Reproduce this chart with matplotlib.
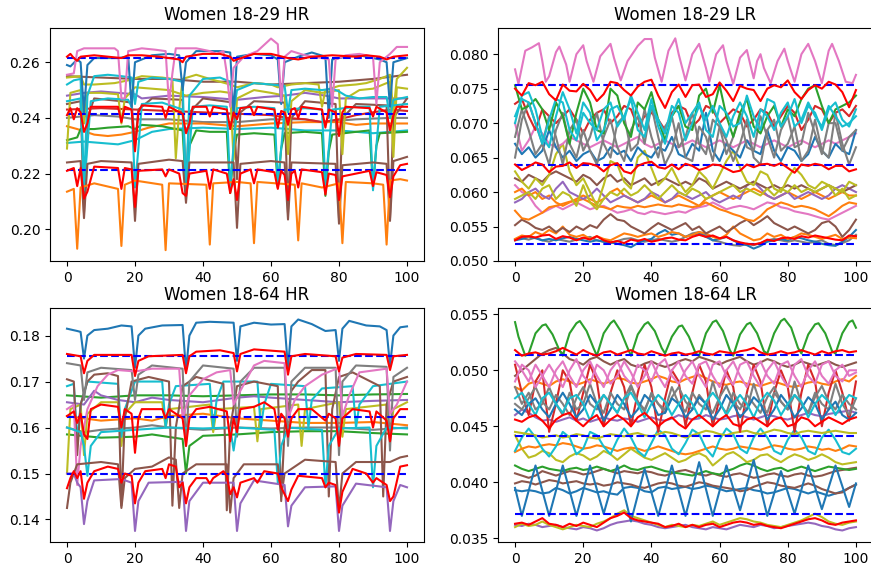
import numpy as np
import matplotlib
matplotlib.use("Agg")
import matplotlib.pyplot as plt

# ---------------- Women 18-29 HR (values x1e-4, vertex pairs (x, y)) ----------------
hr29_orange = [(0,2135),(2,2145),(3,1930),(4,2150),(8,2165),(15,2145),(16,1940),(17,2160),(20,2175),(28,2160),(29,1925),(30,2165),(41,2160),(42,1945),(43,2165),(50,2170),(54,2165),(55,1950),(56,2170),(67,2160),(68,1960),(69,2165),(75,2150),(80,2165),(81,1950),(82,2170),(90,2165),(93,2160),(94,1945),(95,2175),(98,2180),(100,2175)]
hr29_brown_low = [(0,2240),(4,2245),(5,2040),(6,2235),(10,2245),(19,2240),(20,2030),(21,2235),(30,2250),(34,2245),(35,2095),(36,2240),(49,2240),(50,2005),(51,2235),(60,2245),(64,2240),(65,2035),(66,2240),(79,2235),(80,2020),(81,2230),(90,2240),(94,2235),(95,2030),(96,2245),(100,2260)]
hr29_pink = [(0,2555),(2,2560),(3,2640),(5,2650),(10,2650),(14,2650),(15,2640),(16,2470),(17,2470),(18,2640),(22,2650),(26,2645),(29,2640),(30,2450),(31,2560),(32,2650),(38,2650),(42,2640),(44,2630),(46,2640),(47,2560),(48,2440),(49,2580),(52,2620),(56,2640),(60,2685),(62,2665),(63,2460),(64,2620),(66,2640),(70,2625),(75,2615),(77,2610),(78,2440),(79,2610),(82,2625),(86,2630),(90,2620),(91,2450),(92,2600),(95,2630),(97,2655),(100,2655)]
hr29_blue = [(0,2590),(1,2585),(3,2610),(4,2600),(5,2420),(6,2590),(8,2615),(15,2615),(18,2620),(19,2440),(20,2600),(25,2625),(30,2630),(33,2625),(34,2500),(35,2600),(38,2640),(45,2640),(48,2635),(49,2410),(50,2620),(55,2630),(60,2625),(62,2610),(63,2450),(64,2600),(68,2620),(72,2635),(76,2620),(77,2400),(78,2610),(82,2620),(86,2625),(92,2610),(94,2600),(95,2440),(96,2600),(100,2615)]
hr29_olive_a = [(0,2545),(4,2550),(5,2520),(8,2520),(14,2525),(18,2535),(22,2550),(28,2545),(31,2540),(32,2255),(33,2430),(34,2540),(38,2555),(42,2540),(45,2530),(48,2520),(50,2510),(55,2525),(60,2520),(62,2510),(66,2520),(70,2525),(74,2520),(75,2440),(76,2500),(80,2515),(85,2520),(88,2525),(92,2540),(95,2555),(96,2420),(97,2540),(100,2580)]
hr29_olive_b = [(0,2290),(1,2490),(4,2500),(5,2380),(6,2490),(10,2490),(15,2485),(16,2380),(17,2470),(20,2510),(25,2505),(30,2500),(35,2480),(40,2490),(45,2495),(48,2490),(49,2250),(50,2470),(55,2500),(60,2490),(64,2480),(65,2270),(66,2460),(70,2500),(75,2490),(80,2500),(81,2270),(82,2470),(86,2500),(90,2505),(95,2530),(96,2260),(97,2510),(100,2505)]
hr29_cyan_a = [(0,2520),(2,2535),(4,2540),(5,2150),(6,2480),(8,2550),(12,2555),(16,2550),(19,2545),(20,2450),(21,2530),(25,2545),(30,2540),(34,2530),(35,2120),(36,2480),(40,2540),(45,2545),(48,2530),(49,2420),(50,2500),(55,2525),(60,2520),(64,2515),(65,2420),(66,2500),(70,2505),(75,2500),(78,2505),(80,2495),(82,2480),(86,2470),(90,2475),(94,2475),(95,2400),(96,2465),(100,2475)]
hr29_cyan_b = [(0,2460),(4,2470),(5,2140),(6,2300),(7,2460),(12,2470),(18,2465),(19,2440),(20,2150),(21,2290),(22,2450),(28,2455),(34,2430),(35,2130),(36,2280),(37,2440),(42,2445),(47,2440),(48,2150),(49,2300),(50,2435),(55,2440),(61,2435),(62,2160),(63,2290),(64,2430),(70,2435),(75,2430),(76,2160),(77,2290),(78,2430),(85,2440),(89,2440),(90,2140),(91,2300),(92,2440),(100,2450)]
hr29_cyan_c = [(0,2310),(5,2315),(10,2310),(15,2305),(20,2320),(25,2350),(30,2360),(40,2365),(50,2360),(60,2365),(70,2355),(80,2355),(90,2345),(100,2355)]
hr29_green = [(0,2320),(3,2330),(4,2360),(8,2360),(12,2365),(18,2370),(20,2360),(22,2375),(28,2370),(34,2355),(35,2140),(36,2300),(38,2355),(42,2350),(47,2350),(48,2130),(49,2280),(50,2340),(55,2345),(61,2340),(62,2150),(63,2290),(64,2345),(70,2350),(75,2345),(76,2120),(77,2280),(78,2340),(85,2350),(89,2355),(90,2150),(91,2300),(92,2345),(100,2350)]
hr29_brown_up = [(0,2450),(4,2460),(5,2060),(6,2400),(8,2470),(16,2460),(19,2455),(20,2300),(21,2430),(25,2470),(34,2465),(35,2150),(36,2420),(40,2470),(49,2455),(50,2180),(51,2420),(55,2460),(64,2455),(65,2060),(66,2400),(70,2460),(79,2450),(80,2040),(81,2400),(85,2450),(94,2445),(95,2040),(96,2400),(100,2470)]
hr29_brown_top = [(0,2550),(10,2545),(20,2540),(30,2540),(40,2530),(50,2530),(60,2520),(70,2525),(80,2530),(90,2540),(100,2555)]
hr29_purple = [(0,2480),(5,2490),(10,2495),(15,2490),(20,2485),(22,2470),(30,2480),(40,2475),(50,2465),(58,2475),(64,2480),(70,2490),(76,2480),(80,2470),(90,2470),(100,2470)]
hr29_gray = [(0,2400),(8,2410),(15,2405),(20,2395),(30,2395),(40,2385),(50,2385),(60,2395),(70,2395),(75,2385),(85,2395),(95,2400),(100,2400)]
hr29_orange_mid = [(0,2370),(3,2360),(8,2340),(12,2335),(16,2340),(20,2350),(24,2365),(30,2380),(40,2380),(50,2370),(60,2380),(70,2385),(80,2385),(85,2375),(90,2380),(100,2380)]
hr29_darkred = [(0,2430),(10,2435),(20,2430),(30,2425),(40,2420),(50,2415),(60,2410),(65,2400),(70,2395),(75,2385),(80,2395),(85,2410),(90,2420),(95,2430),(100,2425)]
hr29_red_top = [(0,2620),(1,2630),(2,2615),(3,2605),(4,2620),(8,2625),(12,2620),(16,2615),(18,2625),(22,2625),(27,2620),(30,2615),(33,2610),(34,2600),(35,2620),(40,2630),(45,2630),(48,2620),(49,2605),(50,2610),(55,2630),(60,2630),(65,2615),(68,2610),(72,2620),(78,2625),(85,2620),(88,2625),(92,2620),(94,2610),(96,2620),(100,2625)]
hr29_red_mid = [(0,2410),(1,2435),(2,2395),(3,2435),(4,2420),(5,2350),(6,2380),(7,2440),(15,2440),(16,2385),(17,2440),(19,2430),(20,2280),(21,2420),(22,2445),(28,2440),(29,2400),(30,2440),(34,2415),(35,2345),(36,2380),(37,2440),(41,2440),(42,2405),(43,2440),(47,2430),(48,2360),(49,2420),(50,2395),(51,2435),(54,2440),(55,2410),(56,2440),(61,2430),(62,2365),(63,2425),(64,2420),(65,2375),(66,2430),(67,2435),(68,2400),(69,2440),(75,2430),(76,2365),(77,2430),(79,2420),(80,2335),(81,2420),(82,2440),(89,2435),(90,2405),(91,2440),(94,2420),(95,2355),(96,2410),(97,2440),(100,2440)]
hr29_red_low = [(0,2210),(2,2220),(3,2155),(4,2220),(5,2110),(6,2135),(8,2225),(15,2220),(16,2145),(17,2220),(19,2215),(20,2080),(21,2210),(28,2215),(29,2190),(30,2215),(33,2200),(34,2130),(35,2120),(36,2200),(41,2210),(42,2145),(43,2215),(47,2200),(48,2130),(49,2180),(50,2105),(51,2200),(54,2215),(55,2165),(56,2215),(61,2205),(62,2145),(63,2210),(64,2195),(65,2105),(66,2200),(67,2210),(68,2150),(69,2215),(75,2205),(76,2125),(77,2200),(79,2195),(80,2105),(81,2190),(89,2210),(90,2155),(91,2205),(94,2195),(95,2115),(96,2190),(98,2230),(100,2235)]
hr29_bounds = [0.2617, 0.2413, 0.2212]

# ---------------- Women 18-64 HR (values x1e-4, vertex pairs) ----------------
hr64_blue = [(0,1815),(3,1810),(4,1808),(5,1750),(6,1800),(8,1812),(12,1815),(16,1822),(19,1820),(20,1730),(21,1800),(23,1815),(28,1822),(34,1823),(35,1725),(36,1800),(38,1828),(42,1830),(49,1828),(50,1745),(51,1820),(55,1828),(60,1824),(64,1825),(65,1730),(66,1820),(68,1835),(72,1825),(76,1810),(79,1812),(80,1745),(81,1815),(83,1832),(88,1822),(92,1820),(94,1812),(95,1735),(96,1800),(98,1818),(100,1820)]
hr64_gray = [(0,1740),(4,1735),(5,1660),(6,1720),(10,1730),(19,1725),(20,1660),(21,1715),(25,1735),(34,1728),(35,1560),(36,1700),(40,1735),(49,1728),(50,1580),(51,1700),(55,1730),(64,1730),(65,1560),(66,1700),(70,1730),(79,1730),(80,1540),(81,1700),(85,1735),(94,1732),(95,1550),(96,1710),(100,1730)]
hr64_brown_up = [(0,1705),(2,1700),(3,1540),(4,1650),(6,1700),(8,1715),(12,1718),(15,1712),(16,1430),(17,1620),(19,1700),(24,1710),(30,1700),(31,1430),(32,1600),(34,1690),(38,1710),(46,1695),(47,1420),(48,1600),(50,1690),(55,1700),(62,1690),(63,1440),(64,1600),(66,1680),(68,1700),(72,1725),(76,1725),(77,1450),(78,1640),(80,1710),(84,1720),(92,1690),(93,1450),(94,1650),(96,1700),(100,1710)]
hr64_pink = [(0,1640),(2,1650),(3,1475),(4,1560),(6,1640),(9,1690),(12,1715),(15,1725),(20,1722),(25,1728),(33,1728),(34,1620),(36,1670),(40,1705),(44,1720),(48,1725),(49,1650),(51,1680),(55,1735),(58,1745),(64,1740),(65,1620),(67,1660),(70,1690),(75,1715),(80,1730),(81,1625),(83,1670),(86,1720),(94,1728),(95,1630),(97,1650),(100,1700)]
hr64_cyan_a = [(0,1690),(2,1695),(3,1570),(4,1650),(6,1700),(15,1695),(16,1580),(17,1640),(20,1700),(28,1700),(29,1600),(30,1650),(32,1690),(42,1695),(43,1600),(44,1660),(46,1700),(56,1700),(57,1600),(58,1650),(60,1695),(70,1690),(71,1600),(72,1660),(75,1685),(84,1690),(85,1600),(86,1650),(90,1690),(100,1700)]
hr64_green_a = [(0,1670),(10,1665),(20,1670),(30,1670),(40,1668),(50,1670),(60,1672),(70,1672),(80,1670),(90,1672),(100,1673)]
hr64_purple_up = [(0,1655),(5,1650),(8,1680),(10,1670),(15,1660),(20,1655),(25,1665),(30,1660),(40,1655),(50,1665),(55,1668),(60,1665),(70,1660),(80,1655),(90,1658),(100,1660)]
hr64_olive = [(0,1500),(1,1640),(4,1650),(5,1540),(6,1630),(10,1655),(15,1655),(16,1560),(17,1630),(20,1655),(28,1655),(29,1600),(30,1640),(42,1650),(43,1590),(44,1640),(55,1645),(56,1570),(57,1640),(68,1650),(69,1560),(70,1640),(80,1655),(81,1580),(82,1640),(94,1650),(95,1570),(96,1640),(100,1655)]
hr64_orange = [(0,1625),(10,1615),(20,1620),(25,1615),(30,1625),(40,1630),(50,1620),(60,1615),(70,1610),(80,1610),(90,1612),(100,1605)]
hr64_gray_low = [(0,1600),(5,1590),(10,1595),(20,1600),(25,1605),(30,1600),(40,1595),(50,1600),(60,1598),(70,1600),(80,1600),(90,1595),(100,1600)]
hr64_cyan_b = [(0,1600),(4,1590),(5,1560),(6,1495),(7,1560),(10,1590),(20,1595),(30,1600),(40,1598),(48,1600),(49,1550),(50,1600),(61,1595),(62,1480),(63,1560),(65,1600),(75,1595),(76,1470),(77,1560),(80,1598),(89,1600),(90,1470),(91,1560),(94,1600),(100,1598)]
hr64_green_b = [(0,1585),(10,1578),(20,1580),(25,1585),(34,1575),(35,1500),(36,1560),(40,1582),(50,1585),(60,1590),(70,1592),(80,1592),(90,1588),(100,1585)]
hr64_brown_low = [(0,1425),(1,1480),(3,1520),(10,1525),(15,1520),(16,1425),(17,1490),(20,1510),(25,1515),(30,1535),(32,1530),(33,1425),(34,1500),(38,1520),(47,1520),(48,1415),(49,1490),(52,1520),(62,1520),(63,1450),(64,1500),(70,1530),(79,1525),(80,1420),(81,1500),(85,1525),(95,1525),(98,1535),(100,1538)]
hr64_purple_low = [(0,1500),(2,1500),(3,1480),(4,1470),(5,1390),(6,1440),(8,1485),(16,1488),(19,1480),(20,1375),(21,1440),(24,1480),(34,1482),(35,1375),(36,1440),(40,1480),(49,1480),(50,1375),(51,1435),(55,1485),(64,1475),(65,1385),(66,1430),(70,1470),(79,1472),(80,1375),(81,1430),(85,1478),(94,1470),(95,1375),(96,1440),(98,1475),(100,1470)]
hr64_red_top = [(0,1760),(4,1755),(5,1718),(6,1745),(8,1758),(19,1758),(20,1712),(21,1745),(24,1755),(34,1758),(35,1718),(36,1755),(38,1765),(45,1768),(49,1762),(50,1722),(51,1760),(55,1770),(64,1765),(65,1715),(66,1755),(70,1760),(79,1755),(80,1722),(81,1752),(85,1760),(94,1758),(95,1725),(96,1755),(100,1758)]
hr64_red_mid = [(0,1625),(2,1635),(3,1610),(4,1630),(5,1585),(6,1575),(7,1640),(10,1650),(15,1645),(16,1600),(17,1640),(19,1630),(20,1545),(21,1620),(22,1640),(28,1640),(29,1620),(30,1640),(34,1620),(35,1560),(36,1620),(38,1640),(42,1645),(47,1635),(48,1570),(49,1620),(50,1590),(51,1640),(55,1645),(58,1655),(61,1640),(62,1595),(63,1630),(64,1620),(65,1580),(66,1620),(68,1640),(72,1640),(76,1615),(77,1630),(79,1620),(80,1560),(81,1620),(84,1640),(89,1635),(90,1600),(91,1635),(94,1615),(95,1570),(96,1620),(98,1640),(100,1640)]
hr64_red_low = [(0,1468),(1,1490),(2,1505),(3,1490),(4,1505),(5,1445),(6,1480),(8,1505),(12,1515),(15,1510),(16,1480),(17,1500),(19,1495),(20,1435),(21,1480),(23,1505),(28,1510),(29,1490),(30,1520),(32,1515),(33,1470),(34,1480),(35,1435),(36,1470),(38,1490),(41,1490),(42,1478),(43,1490),(46,1505),(47,1495),(48,1455),(49,1470),(50,1448),(51,1480),(55,1490),(56,1480),(58,1505),(62,1500),(63,1470),(65,1440),(66,1465),(68,1495),(75,1490),(76,1470),(77,1480),(79,1475),(80,1415),(81,1460),(84,1510),(88,1500),(90,1480),(91,1490),(94,1475),(95,1440),(96,1450),(98,1515),(100,1518)]
hr64_bounds = [0.17558, 0.16235, 0.14980]

# ---------------- Women 18-29 LR (values x1e-5 on x = 0, 2, ..., 100) ----------------
lr_x = list(range(0, 101, 2))
lr29_pink_top = [(0,7780),(1,7570),(3,8050),(5,8100),(7,8160),(8,7900),(9,7600),(10,7680),(12,8030),(13,8110),(15,7850),(16,7600),(18,8000),(20,8130),(21,7900),(23,7600),(25,7970),(28,8150),(29,7950),(31,7620),(33,7900),(36,8120),(38,8220),(40,8220),(41,7950),(43,7600),(45,8050),(47,8230),(48,8000),(50,7620),(52,8000),(54,8150),(56,7800),(57,7600),(59,8000),(61,8130),(62,7900),(64,7570),(66,7950),(68,8060),(69,7850),(70,7650),(71,7900),(72,8000),(73,7800),(75,7580),(77,7900),(79,8080),(80,7900),(82,7600),(84,8000),(86,8150),(88,7900),(90,7580),(92,8050),(93,8150),(95,7900),(97,7600),(99,7580),(100,7700)]
lr29_red_top = [7500,7400,7580,7550,7600,7420,7330,7560,7470,7460,7570,7480,7320,7420,7600,7580,7480,7400,7530,7600,7630,7400,7220,7450,7560,7380,7550,7560,7380,7420,7590,7470,7320,7540,7500,7480,7320,7500,7550,7520,7620,7450,7350,7480,7550,7500,7600,7560,7450,7230,7480]
lr29_red_mid = [6400,6320,6370,6430,6400,6290,6370,6380,6430,6350,6420,6410,6380,6300,6390,6420,6300,6270,6380,6420,6440,6360,6340,6400,6330,6410,6380,6320,6350,6400,6390,6340,6290,6310,6400,6360,6400,6410,6380,6420,6350,6280,6400,6380,6410,6390,6330,6380,6380,6300,6330]
lr29_red_low = [5300,5350,5360,5340,5370,5380,5320,5360,5340,5300,5340,5310,5360,5300,5270,5290,5260,5310,5290,5320,5280,5300,5330,5340,5310,5300,5350,5380,5350,5370,5330,5350,5300,5270,5250,5240,5260,5310,5290,5330,5340,5320,5360,5340,5370,5350,5330,5310,5300,5370,5360]
lr29_cyan_a = [7000,7400,7450,7200,6800,6650,7100,7450,7200,6850,7300,7150,6750,6900,7200,7250,7050,7400,7150,6900,7350,6950,6700,7100,7350,7000,7150,7300,6900,6800,7250,7150,6950,7000,7400,7100,6900,7350,7300,6950,7100,7350,7000,7250,7150,6900,7200,7300,7050,6950,7200]
lr29_cyan_b = [7100,7350,7300,7000,6700,7050,7350,7300,6900,6750,7150,7000,6900,7200,7300,6950,7100,7350,6900,6800,7250,7050,6850,7250,7150,6750,7000,7250,7050,7250,7000,6800,7100,7300,7100,6800,7200,7100,6900,7150,7300,6950,7050,7300,7100,6950,7250,7100,6950,7000,7100]
lr29_green = [7550,7200,7250,7350,7200,6900,7300,7100,6700,7150,7500,7300,6900,6850,7500,7400,7000,6800,7300,7200,7450,7050,6750,7100,7250,6950,6900,7400,7500,7150,7550,7100,6800,7150,7350,6950,6850,7100,7250,6950,7200,7100,7350,7500,7550,7250,7000,7200,7250,7300,7400]
lr29_gray_a = [6500,7050,7300,7000,6700,6400,6900,7150,6700,6500,6900,6600,6400,6800,7050,6650,6450,6900,7100,6700,7250,6800,6400,6600,7000,6500,6450,6950,6800,6450,6950,6750,6450,6700,7050,6500,6400,6900,7050,6600,6700,6950,6450,6600,7050,6600,6500,7150,6700,6400,6650]
lr29_gray_b = [6800,7200,6900,6550,6700,7100,6800,6400,6900,7050,6600,6800,7150,6700,6500,7000,7100,6600,6700,7200,6800,6500,6950,7100,6650,6800,7150,6700,6550,7050,6950,6550,6800,7100,6650,6600,7100,6800,6500,6900,7100,6650,6700,7150,6850,6550,7000,7000,6600,6800,6900]
lr29_darkred = [7280,7350,7100,6900,7200,7100,7000,7100,7200,7050,6850,7050,7150,7200,7000,7100,7250,7200,6950,7100,7150,7050,6900,7150,7250,7200,6950,7050,7250,7200,7000,7100,7200,7150,6950,7050,7200,7150,6950,7100,7250,7150,6900,7050,7250,7200,7000,7150,7200,7100,7250]
lr29_blue = [6700,6550,6650,6500,6600,6900,6650,6500,6600,6450,6550,6600,6450,6500,6650,6550,6600,6450,6650,6550,6500,6650,6600,6800,6550,6500,6700,6600,7150,6600,6450,6700,6600,6500,6750,6600,6550,6900,6600,6450,6650,6600,6450,6550,6800,6600,6500,6700,6600,6550,6900]
lr29_pink_mid = [7000,6600,6750,6950,6850,6700,6650,6700,6800,6750,6700,6650,6700,6750,6700,6650,6700,6750,6800,6700,6650,6700,6750,6700,6650,6700,6750,6700,6650,6700,6750,6700,6650,6700,6750,6700,6650,6700,6750,6700,6650,6700,6750,6700,6650,6700,6750,6700,6750,6800,6850]
lr29_olive_a = [6300,6150,6050,6200,6100,6250,6550,6700,6300,6100,6200,6000,5800,6100,6450,6400,6150,6050,6500,6600,6350,6100,6200,6350,6150,6000,6100,6300,6200,6050,6250,6450,6600,6350,6150,6100,6300,6250,6050,6000,6200,6350,6250,6100,6050,6150,6100,6050,6000,6150,6100]
lr29_olive_b = [5900,5950,6000,5900,6050,6100,5900,6000,5950,5800,6100,5850,5750,5900,6000,5950,6050,5950,6000,6100,6000,5900,6000,6100,6000,5950,6050,6000,5900,5950,6000,6050,6100,6000,6050,6000,5950,6050,5950,6050,6000,6100,6000,6050,6000,6050,6100,5950,6050,5900,5950]
lr29_brown = [6200,6150,6250,6200,6150,6250,6300,6250,6200,6150,6250,6200,6100,6200,6250,6150,6200,6100,6150,6200,6100,6150,6200,6150,6100,6150,6100,6200,6150,6050,6100,6150,6100,6050,6100,6150,6100,6050,6100,6050,6100,6050,6100,6050,6000,6050,6100,6050,6000,6050,6100]
lr29_purple = [5850,5900,6000,6050,5950,5900,6050,6150,6000,5950,5900,5950,6050,5950,5850,5900,5950,5900,5850,5900,6000,5950,5850,5900,6000,5950,5900,5950,6000,5900,5850,5900,5950,5900,6100,6150,6050,5950,5900,5950,6000,5900,5950,6000,5950,5900,5950,6050,6100,6050,6000]
lr29_orange_a = [6000,6050,5950,6000,5900,5950,5850,5800,5850,5900,5950,5900,5850,5900,6000,6050,5950,5900,5850,5900,5950,5900,5850,5900,5950,5900,5850,5800,5900,5950,6000,5950,5900,5950,6000,6050,6000,5950,5900,5950,6000,5950,5900,5950,6000,5950,5900,5950,6000,5950,5950]
lr29_orange_b = [5730,5620,5600,5650,5700,5780,5800,5830,5860,5870,5900,5850,5800,5780,5750,5800,5780,5770,5800,5780,5800,5820,5800,5790,5820,5800,5780,5800,5850,5800,5750,5720,5680,5650,5600,5580,5650,5750,5800,5850,5820,5780,5800,5780,5750,5700,5650,5720,5800,5850,5830]
lr29_pink_low = [6100,6000,5950,5800,5700,5750,5800,5750,5800,5850,5800,5750,5780,5800,5750,5700,5720,5750,5700,5680,5720,5700,5680,5700,5720,5700,5750,5780,5800,5850,5800,5750,5780,5800,5780,5750,5800,5850,5830,5780,5760,5720,5700,5680,5650,5620,5600,5650,5700,5750,5800]
lr29_brown_low = [5520,5600,5550,5480,5450,5500,5420,5480,5420,5500,5450,5520,5480,5600,5680,5600,5580,5500,5450,5400,5480,5550,5500,5450,5500,5550,5450,5500,5400,5450,5500,5420,5480,5550,5600,5520,5580,5650,5550,5500,5450,5500,5450,5400,5450,5550,5580,5500,5350,5450,5600]
lr29_orange_low = [5320,5370,5350,5420,5380,5450,5400,5500,5380,5350,5380,5320,5360,5320,5300,5350,5400,5380,5350,5380,5400,5350,5380,5420,5400,5350,5380,5420,5400,5350,5320,5380,5500,5400,5350,5300,5320,5400,5350,5380,5320,5350,5400,5380,5350,5320,5350,5380,5320,5340,5330]
lr29_blue_low = [5300,5320,5350,5330,5300,5320,5300,5330,5350,5320,5300,5280,5300,5280,5270,5250,5230,5200,5260,5300,5320,5400,5450,5380,5400,5350,5380,5400,5350,5300,5320,5350,5300,5250,5230,5180,5220,5280,5300,5320,5300,5350,5330,5300,5280,5250,5230,5220,5280,5350,5450]
lr29_gray_low = [5310,5330,5310,5340,5300,5280,5320,5300,5280,5310,5330,5350,5300,5280,5260,5290,5320,5330,5300,5280,5300,5320,5300,5280,5300,5350,5400,5420,5380,5300,5280,5250,5230,5220,5250,5230,5260,5300,5320,5300,5280,5300,5280,5260,5280,5300,5250,5230,5260,5300,5380]
lr29_bounds = [0.07552, 0.06393, 0.05251]

# ---------------- Women 18-64 LR (values x1e-5 on x = 0, 2, ..., 100) ----------------
lr64_green_top = [(0,5430),(1,5300),(3,5130),(4,5150),(6,5330),(8,5400),(9,5410),(11,5320),(13,5180),(14,5130),(16,5330),(18,5420),(19,5440),(21,5350),(23,5200),(24,5130),(26,5330),(28,5420),(29,5445),(31,5350),(33,5200),(34,5130),(36,5320),(38,5410),(39,5430),(41,5350),(43,5200),(44,5150),(46,5300),(48,5390),(49,5400),(51,5300),(53,5150),(54,5130),(56,5330),(58,5430),(59,5445),(61,5350),(63,5180),(64,5130),(66,5320),(68,5410),(69,5425),(71,5330),(73,5170),(74,5150),(76,5330),(78,5440),(79,5460),(81,5380),(83,5200),(84,5150),(86,5320),(88,5410),(89,5420),(91,5330),(93,5170),(94,5150),(96,5330),(98,5430),(99,5445),(100,5380)]
lr64_blue_zig = [(0,3950),(2,3700),(6,4150),(10,3700),(14,4150),(18,3700),(22,4150),(26,3720),(30,4150),(34,3650),(38,4120),(42,3700),(46,4150),(50,3700),(54,4180),(58,3700),(62,4150),(66,3750),(70,4200),(74,3700),(78,4100),(82,3720),(86,4150),(90,3760),(94,4150),(98,3780),(100,3990)]
lr64_blue_flat = [3930,3920,3930,3920,3900,3910,3950,3930,3900,3920,3950,3930,3910,3920,3900,3890,3950,3960,3950,3920,3910,3950,3960,3940,3950,3960,3940,3950,3970,3960,3940,3920,3930,3940,3950,3930,3920,3900,3910,3930,3950,3940,3920,3900,3920,3900,3880,3900,3920,3950,3980]
lr64_brown_top = [4950,5000,5050,5100,5150,5180,5200,5150,5100,5080,5050,5100,5120,5080,5050,5080,5100,5050,5030,5060,5080,5050,5030,5050,5080,5100,5080,5120,5100,5080,5050,5080,5100,5120,5080,5050,5070,5100,5080,5050,5030,5050,5080,5060,5040,5060,5080,5050,5030,5050,5070]
lr64_darkred = [5050,4800,4600,4900,5000,4450,4700,5000,4900,4550,4800,5050,4900,4500,4800,5000,4850,4500,4800,5050,4850,4450,4750,5000,4900,4500,4800,5050,4900,4500,4750,5000,4850,4450,4800,5050,4900,4500,4800,5000,4850,4450,4800,5050,4900,4500,4800,5000,4800,4550,4900]
lr64_pink_a = [5080,5000,4900,5050,4950,4850,5000,5080,4950,4850,5000,5080,4950,4850,5000,5080,4950,4880,5050,5000,4900,5050,5100,4950,4880,5000,5080,4950,4850,5050,5080,4950,4870,5050,5080,4950,4850,5000,5080,4950,4850,5050,5100,4950,4880,5050,5080,4950,4900,5000,5000]
lr64_pink_b = [4900,5050,5000,4850,4950,5050,4950,4850,5000,5100,4950,4880,5050,5000,4880,4950,5080,4980,4850,4950,5080,4950,4850,5000,5080,4950,4880,5050,5080,4950,4850,5000,5080,4950,4850,5000,5080,4950,4880,5050,5080,4950,4850,5000,5080,4950,4880,5000,5050,4950,4980]
lr64_orange_up = [4850,4820,4880,4900,4880,4860,4900,4920,4900,4870,4890,4920,4900,4880,4900,4930,4920,4890,4880,4900,4920,4950,4930,4900,4890,4920,4940,4960,4930,4900,4880,4870,4890,4900,4880,4870,4860,4880,4900,4880,4860,4850,4870,4890,4900,4880,4870,4900,4920,4900,4950]
lr64_gray_a = [4850,4700,4800,4650,4700,4850,4700,4600,4800,4650,4700,4880,4700,4620,4800,4700,4650,4850,4720,4630,4800,4700,4650,4850,4700,4630,4800,4700,4650,4900,4700,4620,4800,4700,4650,4880,4700,4620,4800,4720,4650,4900,4700,4620,4800,4700,4650,4880,4700,4600,4750]
lr64_gray_b = [4700,4650,4750,4850,4720,4650,4780,4700,4600,4750,4850,4700,4650,4780,4700,4620,4750,4870,4720,4650,4780,4700,4620,4760,4850,4720,4650,4780,4700,4620,4760,4860,4720,4650,4780,4700,4620,4760,4850,4720,4650,4780,4700,4620,4760,4860,4720,4650,4780,4700,4650]
lr64_blue_mid = [4650,4600,4700,4750,4650,4580,4700,4800,4700,4580,4650,4780,4700,4550,4650,4780,4700,4580,4650,4780,4720,4600,4620,4750,4700,4580,4650,4760,4700,4560,4650,4780,4700,4580,4650,4760,4700,4560,4650,4780,4700,4580,4660,4760,4700,4560,4650,4720,4600,4560,4620]
lr64_cyan_up = [4750,4800,4700,4600,4750,4800,4700,4620,4750,4780,4700,4550,4700,4780,4700,4620,4750,4800,4700,4580,4700,4780,4720,4600,4700,4780,4700,4580,4720,4800,4720,4600,4700,4780,4700,4580,4720,4800,4730,4600,4700,4780,4720,4580,4700,4780,4720,4600,4700,4780,4750]
lr64_purple = [4600,4650,4620,4580,4550,4560,4540,4560,4580,4550,4570,4540,4560,4580,4560,4550,4570,4560,4540,4560,4580,4560,4550,4570,4600,4580,4560,4570,4600,4580,4560,4570,4590,4600,4580,4560,4580,4600,4590,4570,4560,4580,4600,4620,4600,4590,4610,4620,4630,4640,4620]
lr64_olive_up = [4450,4440,4430,4420,4400,4410,4420,4400,4410,4430,4420,4400,4390,4410,4430,4420,4410,4430,4440,4420,4410,4430,4450,4440,4420,4400,4420,4440,4460,4450,4430,4420,4440,4450,4460,4440,4430,4450,4470,4460,4440,4430,4450,4460,4450,4440,4450,4460,4450,4440,4440]
lr64_cyan_low = [4280,4400,4480,4400,4300,4230,4320,4450,4400,4250,4300,4450,4420,4320,4250,4380,4480,4400,4280,4230,4350,4470,4420,4300,4250,4350,4470,4430,4300,4230,4380,4480,4430,4300,4260,4400,4480,4400,4280,4250,4380,4470,4400,4280,4250,4400,4470,4380,4270,4250,4300]
lr64_orange_low = [4270,4300,4320,4310,4330,4340,4330,4350,4340,4320,4300,4310,4330,4320,4300,4280,4300,4310,4300,4280,4300,4320,4300,4280,4260,4250,4260,4280,4300,4320,4300,4290,4300,4320,4310,4300,4290,4310,4330,4320,4300,4290,4300,4320,4310,4290,4300,4280,4300,4330,4320]
lr64_olive_mid = [4420,4300,4220,4240,4280,4260,4200,4180,4230,4260,4240,4200,4230,4280,4250,4200,4250,4300,4260,4220,4200,4230,4260,4220,4180,4200,4240,4260,4230,4150,4200,4250,4270,4230,4180,4200,4240,4250,4210,4180,4220,4250,4230,4200,4220,4250,4220,4180,4160,4170,4180]
lr64_green_low = [4150,4120,4100,4120,4140,4120,4110,4100,4120,4130,4110,4120,4140,4120,4100,4120,4150,4120,4110,4130,4140,4120,4100,4090,4080,4070,4060,4080,4100,4080,4070,4100,4120,4150,4170,4150,4120,4100,4120,4130,4100,4120,4140,4120,4100,4120,4140,4130,4120,4110,4120]
lr64_brown_a = [4080,4060,4040,4060,4100,4080,4060,4080,4100,4090,4070,4080,4100,4120,4100,4080,4100,4090,4080,4100,4090,4070,4060,4080,4100,4110,4090,4070,4060,4080,4060,4050,4070,4080,4060,4040,4050,4070,4080,4060,4050,4070,4080,4060,4050,4060,4080,4100,4110,4120,4130]
lr64_brown_b = [3990,4010,4000,3980,4000,4020,4010,3990,4000,4010,3990,3980,3990,3970,3980,4000,3990,3980,3960,3950,3970,3990,4000,3990,3970,3960,3980,4000,3990,3970,3960,3950,3940,3920,3930,3960,3980,4000,3990,3970,3960,3950,3970,3990,3970,3940,3920,3900,3910,3950,3980]
lr64_olive_low = [3600,3630,3610,3620,3650,3620,3600,3580,3600,3620,3610,3600,3630,3650,3680,3720,3750,3700,3680,3660,3640,3620,3600,3620,3610,3600,3620,3610,3630,3650,3620,3640,3660,3680,3670,3650,3640,3620,3610,3600,3620,3640,3660,3690,3720,3690,3650,3630,3620,3640,3650]
lr64_purple_low = [3620,3610,3630,3620,3600,3610,3620,3600,3590,3580,3600,3590,3570,3590,3620,3640,3650,3660,3650,3630,3620,3600,3590,3600,3610,3620,3600,3590,3580,3600,3590,3580,3600,3620,3610,3600,3620,3610,3590,3600,3610,3620,3630,3640,3630,3610,3600,3580,3570,3590,3600]
lr64_red_top = [5180,5130,5150,5160,5140,5150,5170,5200,5170,5140,5180,5150,5130,5160,5170,5140,5160,5180,5150,5140,5170,5150,5130,5150,5160,5140,5150,5170,5150,5140,5170,5160,5150,5170,5180,5200,5160,5140,5150,5170,5150,5160,5180,5160,5140,5170,5150,5170,5180,5160,5170]
lr64_red_mid = [4560,4540,4580,4600,4550,4480,4560,4600,4620,4550,4500,4560,4600,4500,4560,4600,4560,4500,4580,4620,4560,4500,4550,4580,4520,4480,4560,4600,4550,4500,4560,4600,4520,4500,4560,4580,4540,4500,4560,4580,4500,4520,4580,4560,4500,4540,4580,4550,4520,4560,4580]
lr64_red_low = [3630,3640,3620,3650,3680,3630,3620,3600,3630,3610,3640,3620,3600,3640,3680,3700,3730,3680,3660,3650,3640,3630,3600,3610,3630,3600,3620,3600,3620,3630,3600,3620,3640,3650,3640,3620,3630,3610,3600,3590,3610,3630,3650,3670,3680,3660,3630,3620,3640,3650,3660]
lr64_bounds = [0.05134, 0.04413, 0.03720]

# ---------------- drawing ----------------
C = ['#1f77b4', '#ff7f0e', '#2ca02c', '#d62728', '#9467bd',
     '#8c564b', '#e377c2', '#7f7f7f', '#bcbd22', '#17becf']

hr29_lines = [(hr29_brown_top, C[5]), (hr29_purple, C[4]), (hr29_gray, C[7]), (hr29_orange_mid, C[1]),
              (hr29_darkred, C[3]), (hr29_cyan_c, C[9]), (hr29_green, C[2]), (hr29_brown_up, C[5]),
              (hr29_olive_b, C[8]), (hr29_olive_a, C[8]), (hr29_cyan_b, C[9]), (hr29_cyan_a, C[9]),
              (hr29_blue, C[0]), (hr29_pink, C[6]), (hr29_brown_low, C[5]), (hr29_orange, C[1])]
hr29_reds = [hr29_red_top, hr29_red_mid, hr29_red_low]

hr64_lines = [(hr64_green_a, C[2]), (hr64_purple_up, C[4]), (hr64_orange, C[1]), (hr64_gray_low, C[7]),
              (hr64_green_b, C[2]), (hr64_olive, C[8]), (hr64_cyan_a, C[9]), (hr64_brown_up, C[5]),
              (hr64_gray, C[7]), (hr64_pink, C[6]), (hr64_cyan_b, C[9]), (hr64_brown_low, C[5]),
              (hr64_purple_low, C[4]), (hr64_blue, C[0])]
hr64_reds = [hr64_red_top, hr64_red_mid, hr64_red_low]

lr29_lines = [(lr29_gray_low, C[7]), (lr29_blue_low, C[0]), (lr29_orange_low, C[1]), (lr29_brown_low, C[5]),
              (lr29_pink_low, C[6]), (lr29_orange_b, C[1]), (lr29_orange_a, C[1]), (lr29_purple, C[4]),
              (lr29_brown, C[5]), (lr29_olive_b, C[8]), (lr29_olive_a, C[8]), (lr29_pink_mid, C[6]),
              (lr29_blue, C[0]), (lr29_darkred, C[3]), (lr29_gray_b, C[7]), (lr29_gray_a, C[7]),
              (lr29_green, C[2]), (lr29_cyan_b, C[9]), (lr29_cyan_a, C[9])]
lr29_reds = [lr29_red_top, lr29_red_mid, lr29_red_low]

lr64_lines = [(lr64_purple_low, C[4]), (lr64_olive_low, C[8]), (lr64_blue_flat, C[0]), (lr64_brown_b, C[5]),
              (lr64_brown_a, C[5]), (lr64_green_low, C[2]), (lr64_olive_mid, C[8]), (lr64_orange_low, C[1]),
              (lr64_cyan_low, C[9]), (lr64_olive_up, C[8]), (lr64_purple, C[4]), (lr64_orange_up, C[1]),
              (lr64_brown_top, C[5]), (lr64_darkred, C[3]), (lr64_gray_b, C[7]), (lr64_gray_a, C[7]),
              (lr64_blue_mid, C[0]), (lr64_pink_b, C[6]), (lr64_pink_a, C[6]), (lr64_cyan_up, C[9])]
lr64_reds = [lr64_red_top, lr64_red_mid, lr64_red_low]


def xy(series, scale):
    if isinstance(series[0], tuple):
        xs = [p[0] for p in series]
        ys = [p[1] * scale for p in series]
    else:
        xs = lr_x
        ys = [v * scale for v in series]
    return xs, ys


fig = plt.figure(figsize=(8.71, 5.69), dpi=100)
W, H = 871.0, 569.0
boxes = [(50, 28, 424, 261), (498, 28, 873, 261), (50, 308, 424, 542), (498, 308, 873, 542)]
axes = [fig.add_axes([l / W, 1 - b / H, (r - l) / W, (b - t) / H]) for (l, t, r, b) in boxes]

panels = [
    ("Women 18-29 HR", hr29_lines, hr29_reds, hr29_bounds, 1e-4, (0.1886, 0.2723)),
    ("Women 18-29 LR", lr29_lines + [(lr29_pink_top, C[6])], lr29_reds, lr29_bounds, 1e-5, (0.0500, 0.0838)),
    ("Women 18-64 HR", hr64_lines, hr64_reds, hr64_bounds, 1e-4, (0.1351, 0.1860)),
    ("Women 18-64 LR", lr64_lines + [(lr64_blue_zig, C[0]), (lr64_green_top, C[2])], lr64_reds, lr64_bounds, 1e-5, (0.03467, 0.05556)),
]

for ax, (title, lines, reds, bounds, sc, ylim) in zip(axes, panels):
    for s, col in lines:
        xs, ys = xy(s, sc)
        ax.plot(xs, ys, color=col, lw=1.5)
    for b in bounds:
        ax.plot([0, 100], [b, b], 'b--', lw=1.5)
    for s in reds:
        xs, ys = xy(s, sc)
        ax.plot(xs, ys, color='r', lw=1.5)
    ax.set_title(title, fontsize=12)
    ax.set_xlim(-5, 105)
    ax.set_ylim(*ylim)
    ax.set_xticks([0, 20, 40, 60, 80, 100])
    ax.tick_params(labelsize=10)

fig.savefig("out.png", dpi=100)
